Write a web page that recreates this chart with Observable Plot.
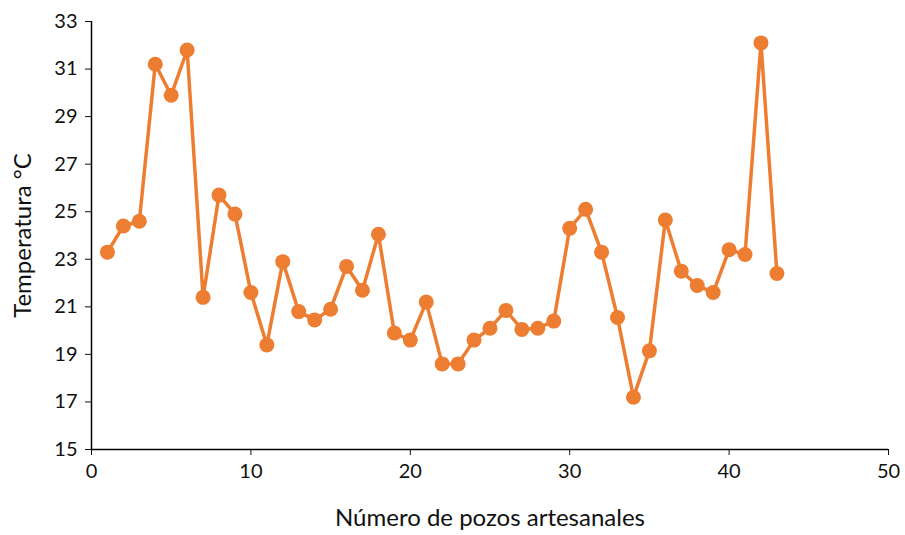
<!DOCTYPE html>
<html>
<head>
<meta charset="utf-8">
<script src="https://cdn.jsdelivr.net/npm/d3@7"></script>
<script src="https://cdn.jsdelivr.net/npm/@observablehq/plot@0.6"></script>
<style>
  html, body { margin: 0; padding: 0; background: #fff; }
  #chart { width: 905px; height: 535px; }
  g[aria-label="x-axis label"] text, g[aria-label="y-axis label"] text { font-size: 24px; }
</style>
</head>
<body>
<div id="chart"></div>
<script>
const pozos = [1,2,3,4,5,6,7,8,9,10,11,12,13,14,15,16,17,18,19,20,21,22,23,24,25,26,27,28,29,30,31,32,33,34,35,36,37,38,39,40,41,42,43];
const temperatura = [23.3,24.4,24.6,31.2,29.9,31.8,21.4,25.7,24.9,21.6,19.4,22.9,20.8,20.45,20.9,22.7,21.7,24.05,19.9,19.6,21.2,18.6,18.6,19.6,20.1,20.85,20.05,20.1,20.4,24.3,25.1,23.3,20.55,17.2,19.15,24.65,22.5,21.9,21.6,23.4,23.2,32.1,22.4];
const xTicks = [0,10,20,30,40,50];
const yTicks = [15,17,19,21,23,25,27,29,31,33];
const xLabel = "Número de pozos artesanales";
const yLabel = "Temperatura °C";

const data = pozos.map((p, i) => ({pozo: p, temp: temperatura[i]}));
const color = "#ED7D31";

const chart = Plot.plot({
  width: 905,
  height: 535,
  marginLeft: 91,
  marginRight: 17,
  marginTop: 21,
  marginBottom: 86,
  style: {fontFamily: "Lato, 'Open Sans', sans-serif", fontSize: "20px", color: "#111", background: "#fff"},
  x: {domain: [0, 50]},
  y: {domain: [15, 33]},
  marks: [
    Plot.axisX({ticks: xTicks, tickSize: 6, tickPadding: 8, fontSize: 20, label: xLabel, labelAnchor: "center", labelArrow: "none", labelOffset: 76}),
    Plot.axisY({ticks: yTicks, tickSize: 6, tickPadding: 8, fontSize: 20, label: yLabel, labelAnchor: "center", labelArrow: "none", labelOffset: 78}),
    Plot.ruleX([0], {stroke: "#000", strokeWidth: 1.5}),
    Plot.ruleY([15], {stroke: "#000", strokeWidth: 1.5}),
    Plot.line(data, {x: "pozo", y: "temp", stroke: color, strokeWidth: 3.5}),
    Plot.dot(data, {x: "pozo", y: "temp", fill: color, r: 7.5})
  ]
});
document.getElementById("chart").appendChild(chart);
</script>
</body>
</html>
